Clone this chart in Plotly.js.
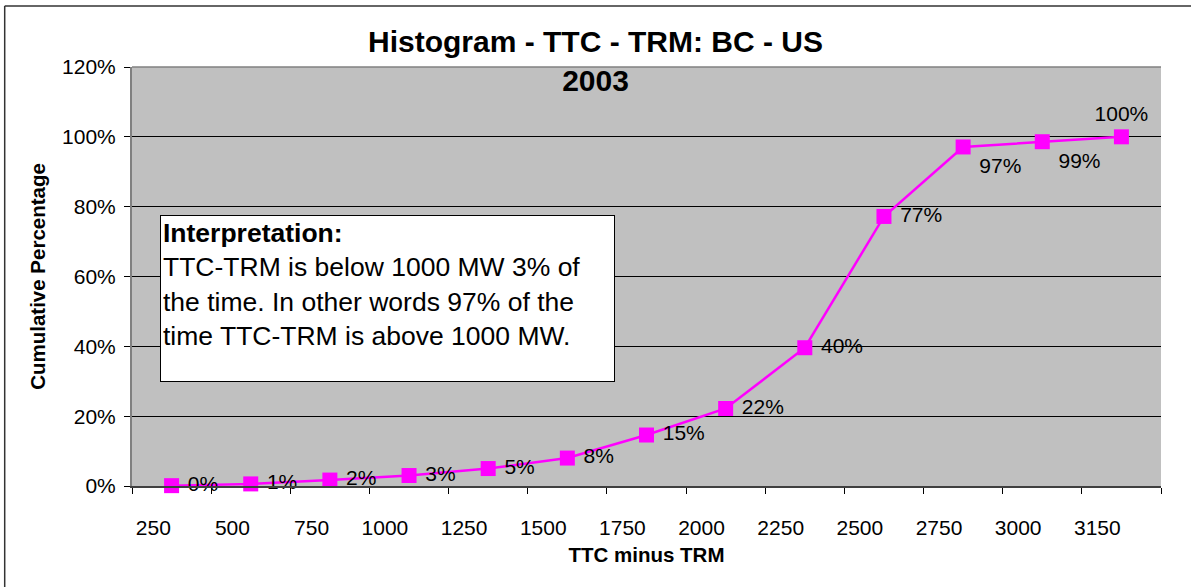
<!DOCTYPE html>
<html>
<head>
<meta charset="utf-8">
<script src="https://cdn.plot.ly/plotly-3.0.1.min.js"></script>
<style>
  html, body { margin: 0; padding: 0; background: #ffffff; }
  #chart { width: 1191px; height: 587px; }
</style>
</head>
<body>
<div id="chart"></div>
<script>
// Category labels (x axis) and cumulative percentages
var categories = ['250', '500', '750', '1000', '1250', '1500', '1750', '2000', '2250', '2500', '2750', '3000', '3150'];
var cumulative = [0.001, 0.006, 0.017, 0.030, 0.050, 0.080, 0.146, 0.222, 0.396, 0.772, 0.971, 0.986, 1.000];
var labelPositions = ['middle right', 'middle right', 'middle right', 'middle right', 'middle right', 'middle right',
                      'middle right', 'middle right', 'middle right', 'middle right', 'bottom right', 'bottom right', 'top center'];
var yTicks = [0, 0.2, 0.4, 0.6, 0.8, 1.0, 1.2];

var titleText = 'Histogram - TTC - TRM: BC - US<br>2003';
var boxText = '<b>Interpretation:</b><br>TTC-TRM is below 1000 MW 3% of<br>the time. In other words 97% of the<br>time TTC-TRM is above 1000 MW.';

var FONT = 'Liberation Sans, Arial, sans-serif';
var idx = categories.map(function (c, i) { return i; });
var boundaries = categories.map(function (c, i) { return i - 0.5; }).concat([categories.length - 0.5]);
// labels placed to the right get a small leading gap (non-breaking space)
var labelTemplates = labelPositions.map(function (p) {
  return p.indexOf('right') >= 0 ? '\u00a0%{y:.0%}' : '%{y:.0%}';
});

var trace = {
  x: idx,
  y: cumulative,
  type: 'scatter',
  mode: 'lines+markers+text',
  line: { color: '#FF00FF', width: 2.5 },
  marker: { symbol: 'square', size: 15, color: '#FF00FF' },
  texttemplate: labelTemplates,
  textposition: labelPositions,
  textfont: { family: FONT, size: 21, color: '#000000' },
  hoverinfo: 'skip',
  cliponaxis: false,
  showlegend: false
};

// plot area in px: l=132, r=30, t=67, b=101 -> 1029 x 419
var ML = 132, MT = 67, PW = 1029, PH = 419;
function px2x(px) { return (px - ML) / PW; }
function px2y(py) { return (MT + PH - py) / PH; }

var layout = {
  width: 1191,
  height: 587,
  margin: { l: ML, r: 1191 - ML - PW, t: MT, b: 587 - MT - PH, pad: 0 },
  paper_bgcolor: '#ffffff',
  plot_bgcolor: '#C0C0C0',
  font: { family: FONT, color: '#000000' },
  title: {
    text: titleText,
    font: { family: FONT, size: 30, weight: 'bold', color: '#000000' },
    x: 0.5, xref: 'container', xanchor: 'center',
    y: 1 - 52 / 587, yref: 'container', yanchor: 'top'
  },
  xaxis: {
    range: [-0.5, categories.length - 0.5],
    tickmode: 'array',
    tickvals: idx,
    ticktext: categories,
    ticks: '',
    ticklabelposition: 'outside left',
    ticklabelstandoff: 22,
    tickfont: { family: FONT, size: 21, color: '#000000' },
    showgrid: false,
    zeroline: false,
    showline: true,
    linecolor: '#404040',
    linewidth: 1.5,
    minor: { tickmode: 'array', tickvals: boundaries, ticks: 'outside', ticklen: 6, tickcolor: '#000000', tickwidth: 1, showgrid: false },
    title: { text: '<b>TTC minus TRM</b>', font: { family: FONT, size: 20.5, color: '#000000' }, standoff: 10 },
    fixedrange: true
  },
  yaxis: {
    range: [0, 1.2],
    tickmode: 'array',
    tickvals: yTicks,
    tickformat: '.0%',
    ticks: 'outside',
    ticklen: 6,
    tickcolor: '#000000',
    tickwidth: 1,
    ticklabelstandoff: 4,
    tickfont: { family: FONT, size: 21, color: '#000000' },
    showgrid: true,
    gridcolor: '#000000',
    gridwidth: 1,
    zeroline: false,
    showline: true,
    linecolor: '#808080',
    linewidth: 2,
    title: { text: '<b>Cumulative Percentage</b>', font: { family: FONT, size: 20.5, color: '#000000' }, standoff: 11 },
    fixedrange: true
  },
  shapes: [
    // grey plot-area top border
    { type: 'line', xref: 'paper', yref: 'paper', x0: 0, x1: 1, y0: 1, y1: 1, line: { color: '#808080', width: 1.5 } },
    // outer chart frame (top and left edges visible)
    { type: 'line', xref: 'paper', yref: 'paper', x0: px2x(4.7), x1: px2x(1200), y0: px2y(6), y1: px2y(6), line: { color: '#333333', width: 1.5 } },
    { type: 'line', xref: 'paper', yref: 'paper', x0: px2x(4.7), x1: px2x(4.7), y0: px2y(6), y1: px2y(600), line: { color: '#333333', width: 1.5 } }
  ],
  annotations: [
    {
      text: boxText,
      xref: 'paper', yref: 'paper',
      x: px2x(159.7), y: px2y(214.7),
      xanchor: 'left', yanchor: 'top',
      align: 'left', valign: 'top',
      width: 449, height: 161,
      showarrow: false,
      bgcolor: '#ffffff',
      bordercolor: '#000000',
      borderwidth: 1,
      borderpad: 2,
      font: { family: FONT, size: 26.5, color: '#000000' }
    }
  ]
};

Plotly.newPlot('chart', [trace], layout, { displayModeBar: false, staticPlot: true });
</script>
</body>
</html>
